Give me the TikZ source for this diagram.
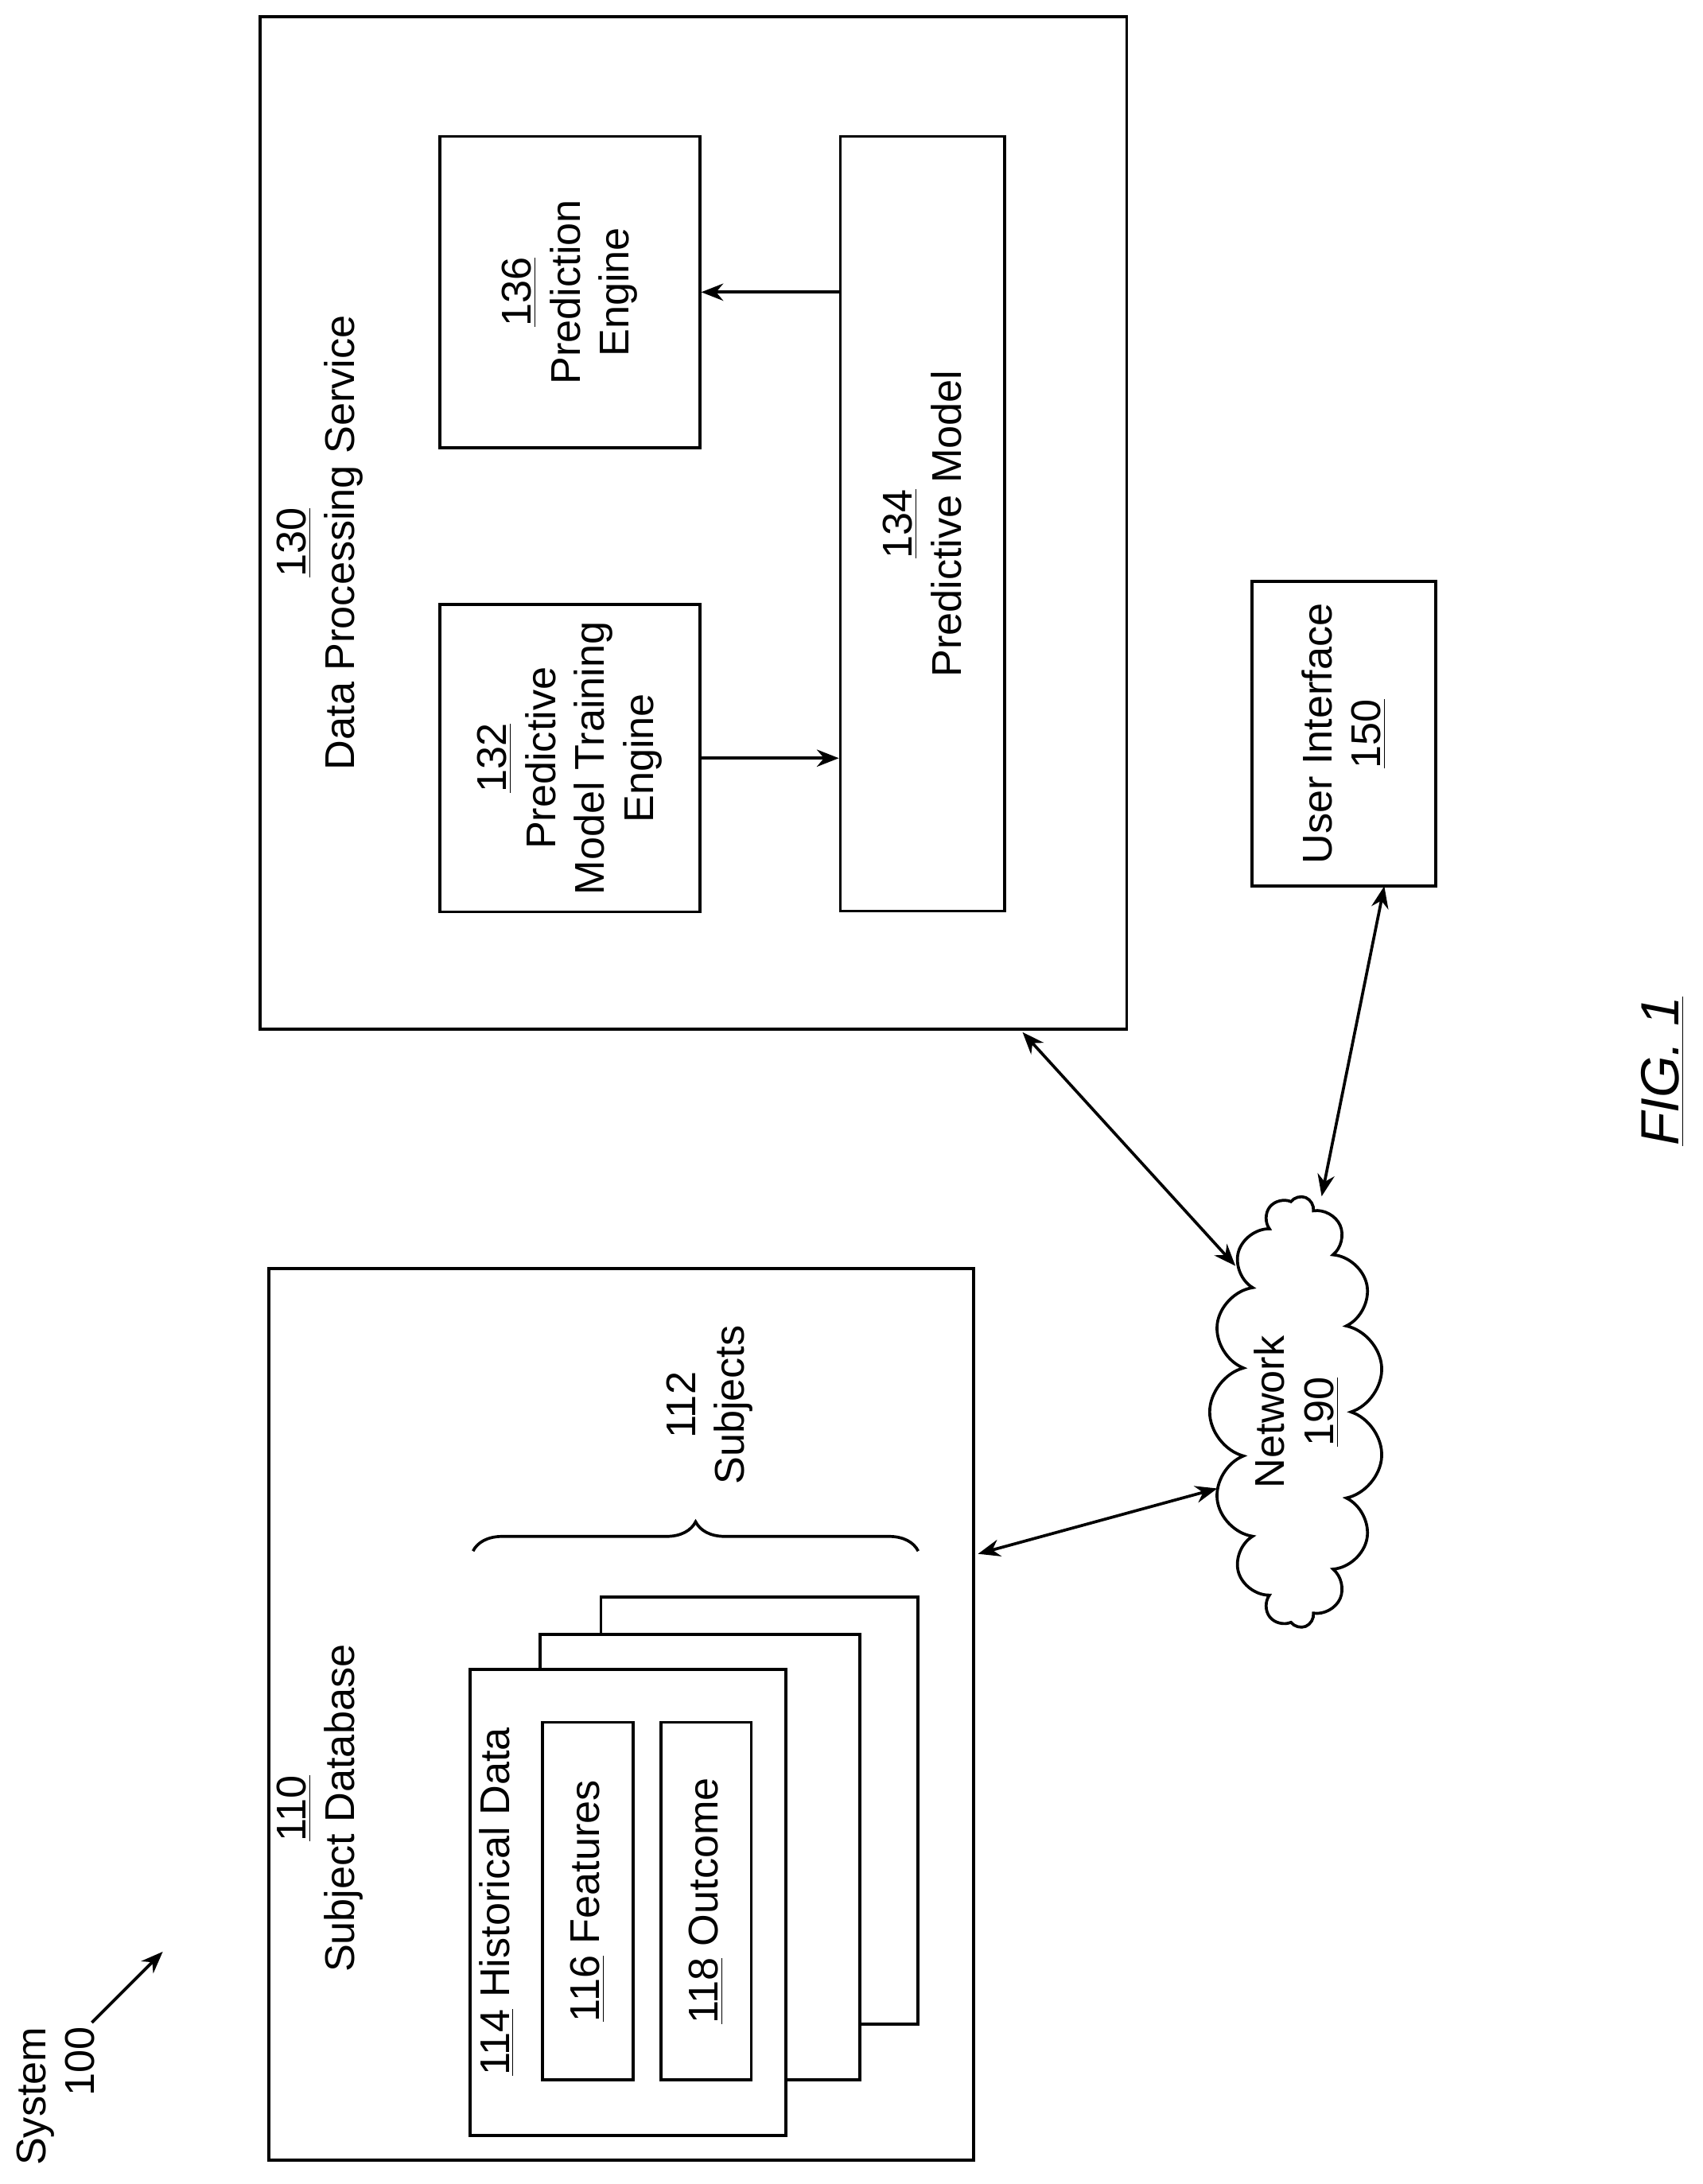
\documentclass[tikz,border=0pt]{standalone}
\usepackage{fontspec}
\setmainfont{Liberation Sans}
\usetikzlibrary{shapes.symbols,decorations.pathreplacing,arrows.meta}
\begin{document}
\begin{tikzpicture}[x=0.02cm, y=-0.02cm, line width = 1.2pt,
  box/.style = {draw, rectangle, inner sep=0pt},
  txt/.style = {rotate=90, align=center, font=\fontsize{17}{20}\selectfont},
  link/.style = {{Stealth[length=9pt,width=7pt]}-{Stealth[length=9pt,width=7pt]}},
  one/.style = {-{Stealth[length=9pt,width=7pt]}}]
\useasboundingbox (0,0) rectangle (1224,1570);
% data processing service
\node[box, minimum width=12.46cm, minimum height=14.56cm](b130) at (498.5,376) {};
\node[box, minimum width=3.74cm, minimum height=4.48cm](b136) at (409.5,210) {};
\node[box, minimum width=3.74cm, minimum height=4.42cm](b132) at (409.5,545) {};
\node[box, minimum width=2.36cm, minimum height=11.14cm](b134) at (663,376.5) {};
\node[txt] at (230,390) {\underline{130}\\Data Processing Service};
\node[txt] at (b136) {\underline{136}\\Prediction\\Engine};
\node[txt] at (b132) {\underline{132}\\Predictive\\Model Training\\Engine};
\node[txt] at (b134) {\underline{134}\\Predictive Model};
\draw[one] (b134.west |- b136.east) -- (b136.east);
\draw[one] (b132.east) -- (b132.east -| b134.west);
% user interface
\node[box, minimum width=2.64cm, minimum height=4.38cm](b150) at (966,527.5) {};
\node[txt] at (b150) {User Interface\\\underline{150}};
% subject database
\node[box, minimum width=10.14cm, minimum height=12.82cm](b110) at (446.5,1232.5) {};
\node[txt] at (230,1300) {\underline{110}\\Subject Database};
\node[box, fill=white, minimum width=4.56cm, minimum height=6.14cm](pg3) at (546,1301.5) {};
\node[box, fill=white, minimum width=4.6cm, minimum height=6.4cm](pg2) at (503,1335) {};
\node[box, fill=white, minimum width=4.54cm, minimum height=6.7cm](pg1) at (451.5,1367.5) {};
\node[txt] at (357,1367) {\underline{114} Historical Data};
\node[box, minimum width=1.3cm, minimum height=5.14cm](b116) at (422.5,1366.5) {};
\node[box, minimum width=1.3cm, minimum height=5.14cm](b118) at (507.5,1366.5) {};
\node[txt] at (b116) {\underline{116} Features};
\node[txt] at (b118) {\underline{118} Outcome};
\draw[decorate, decoration={brace, amplitude=12pt}] (340,1115) -- (660,1115);
\node[txt] at (510,1010) {112\\Subjects};
% network
\node[draw, cloud, cloud puffs=15, aspect=2.5, rotate=90, minimum width=6.2cm,
  minimum height=2.5cm](net) at (932,1015) {};
\node[txt] at (net) {Network\\\underline{190}};
\coordinate (e1) at (703,1117);
\coordinate (e2) at (875,1070);
\coordinate (e3) at (735,742);
\coordinate (e4) at (888,910);
\coordinate (e5) at (995,637);
\coordinate (e6) at (950,860);
\draw[link] (e1) -- (e2);
\draw[link] (e3) -- (e4);
\draw[link] (e5) -- (e6);
% labels
\node[txt, align=right, inner sep=0pt] (sys) at (40,1507) {System\\100};
\coordinate (s1) at (66,1454);
\coordinate (s2) at (117,1403);
\draw[one] (s1) -- (s2);
\node[rotate=90, font=\fontsize{22}{26}\selectfont\itshape] at (1195,770) {\underline{FIG. 1}};
\end{tikzpicture}
\end{document}
